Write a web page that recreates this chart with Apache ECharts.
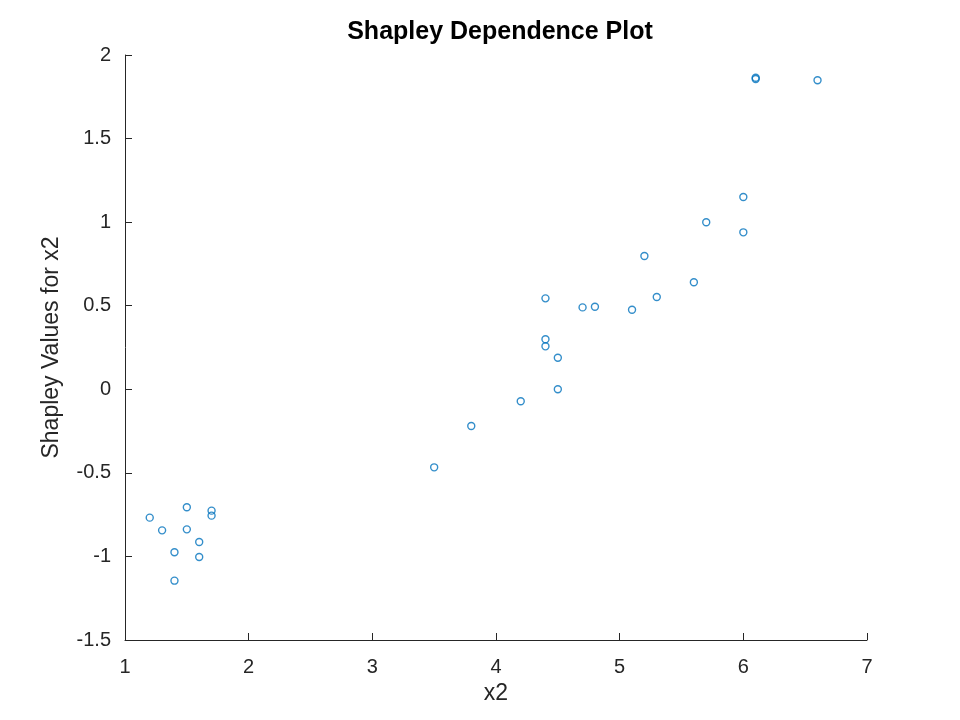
<!DOCTYPE html>
<html>
<head>
<meta charset="utf-8">
<script src="https://cdn.jsdelivr.net/npm/echarts@6/dist/echarts.min.js"></script>
<style>html,body{margin:0;padding:0;background:#fff}#c{width:960px;height:720px}</style>
</head>
<body>
<div id="c"></div>
<script>
const xValues = [1.2, 1.3, 1.5, 1.5, 1.7, 1.7, 1.6, 1.4, 1.6, 1.4,
  4.4, 4.7, 4.8, 5.1, 5.3, 4.4, 4.4, 4.5, 4.5, 4.2, 3.8, 3.5, 5.6,
  6.1, 6.1, 6.6, 6.0, 5.7, 6.0, 5.2];
const shapValues = [-0.768, -0.844, -0.706, -0.838, -0.726, -0.756, -0.914, -0.975, -1.003, -1.145,
  0.544, 0.490, 0.494, 0.476, 0.552, 0.299, 0.257, 0.189, 0.0, -0.072, -0.220, -0.467, 0.640,
  1.864, 1.856, 1.849, 1.150, 0.999, 0.939, 0.797];
const xTicks = [1, 2, 3, 4, 5, 6, 7];
const yTicks = [-1.5, -1, -0.5, 0, 0.5, 1, 1.5, 2];

const points = xValues.map((x, i) => [x, shapValues[i]]);
const font = 'Liberation Sans, Helvetica, Arial, sans-serif';
const chart = echarts.init(document.getElementById('c'));
chart.setOption({
  animation: false,
  backgroundColor: '#ffffff',
  title: {
    text: 'Shapley Dependence Plot',
    left: 495, textAlign: 'center', top: 15,
    textStyle: { fontFamily: font, fontSize: 25, fontWeight: 'bold', color: '#000' }
  },
  grid: { left: 125, right: 93, top: 55, bottom: 80 },
  xAxis: {
    type: 'value', min: xTicks[0], max: xTicks[xTicks.length - 1], interval: 1,
    name: 'x2', nameLocation: 'middle', nameGap: 42,
    nameTextStyle: { fontFamily: font, fontSize: 23, color: '#262626' },
    axisLine: { show: true, onZero: false, lineStyle: { color: '#262626', width: 1 } },
    axisTick: { show: true, inside: true, length: 7, lineStyle: { color: '#262626' } },
    axisLabel: { fontFamily: font, fontSize: 20, color: '#262626', margin: 17 },
    splitLine: { show: false }
  },
  yAxis: {
    type: 'value', min: yTicks[0], max: yTicks[yTicks.length - 1], interval: 0.5,
    name: 'Shapley Values for x2', nameLocation: 'middle', nameGap: 62,
    nameTextStyle: { fontFamily: font, fontSize: 23, color: '#262626' },
    axisLine: { show: true, onZero: false, lineStyle: { color: '#262626', width: 1 } },
    axisTick: { show: true, inside: true, length: 7, lineStyle: { color: '#262626' } },
    axisLabel: { fontFamily: font, fontSize: 20, color: '#262626', margin: 14 },
    splitLine: { show: false }
  },
  series: [{
    type: 'scatter',
    data: points,
    symbol: 'circle',
    symbolSize: 7,
    itemStyle: { color: 'rgba(0,0,0,0)', borderColor: '#0072BD', borderWidth: 1.4 }
  }]
});
</script>
</body>
</html>
